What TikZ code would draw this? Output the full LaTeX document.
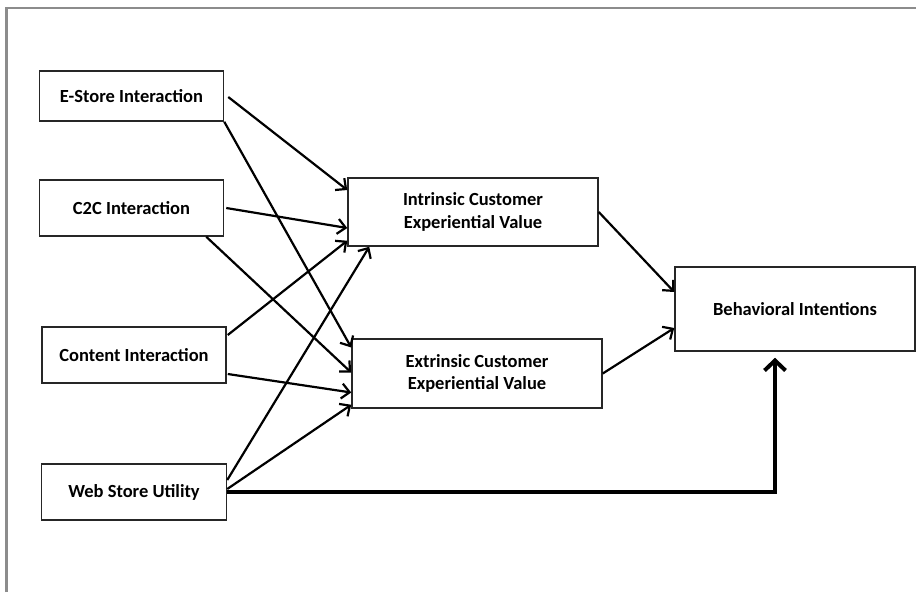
\documentclass[tikz,border=0pt]{standalone}
\usepackage{fontspec}
\setmainfont{Carlito}
\usepackage{xcolor}
\usetikzlibrary{positioning,arrows.meta,calc}

\begin{document}
\begin{tikzpicture}[
    x=1pt, y=-1pt,
    >={Straight Barb[length=8pt,width=15pt]},
    construct/.style={draw=black!85, line width=1.5pt, fill=white, align=center,
        font=\fontsize{18.5}{22.5}\selectfont\bfseries},
    link/.style={->, line width=2.2pt},
    mainlink/.style={line width=4pt, -{Straight Barb[length=10pt,width=21pt]}},
    frameline/.style={draw=black!45, line width=2.2pt}
]
% Column positions
\def\colA{134}
\def\colB{475}
\def\colC{795}

\useasboundingbox (0,0) rectangle (916,592);

% Outer frame (only left and top edges show)
\draw[frameline] (6.5,592) -- (6.5,8) -- (916,8);

% === Left column: interaction constructs ===
\node[construct, minimum width=184pt, minimum height=50pt] (estore)  at (131.5, 96)  {E-Store Interaction};
\node[construct, minimum width=184pt, minimum height=56pt] (c2c)     at (131.5, 208) {C2C Interaction};
\node[construct, minimum width=184pt, minimum height=56pt] (content) at (\colA, 355)  {Content Interaction};
\node[construct, minimum width=185pt, minimum height=56pt] (web)     at (\colA, 492)  {Web Store Utility};

% === Middle column: experiential value ===
\node[construct, minimum width=250pt, minimum height=68pt] (intr) at (473, 212)   {Intrinsic Customer\\Experiential Value};
\node[construct, minimum width=250pt, minimum height=69pt] (extr) at (477, 373.5) {Extrinsic Customer\\Experiential Value};

% === Right column: outcome ===
\node[construct, minimum width=240pt, minimum height=84pt] (behav) at (\colC, 309) {Behavioral Intentions};

% Lines to intrinsic value
\draw[link] ([xshift=4pt,yshift=-1pt]estore.east) -- ([yshift=22pt]intr.west);
\draw[link] ([xshift=2pt]c2c.east) -- ([yshift=-16pt]intr.west);
\draw[link] ([xshift=1pt,yshift=20pt]content.east) -- ([yshift=6pt]intr.south west);
\draw[link] ([yshift=12pt]web.east) -- ([xshift=22pt]intr.south west);

% Lines to extrinsic value
\draw[link] (estore.south east) -- ([yshift=26pt]extr.west);
\draw[link] ([xshift=-18pt]c2c.south east) -- ([yshift=1pt]extr.west);
\draw[link] ([xshift=1pt,yshift=-19pt]content.east) -- ([yshift=-19pt]extr.west);
\draw[link] ([yshift=3pt]web.east) -- ([yshift=4pt]extr.south west);

% Lines to behavioral intentions
\draw[link] (intr.east) -- ([yshift=17pt]behav.west);
\draw[link] (extr.east) -- ([yshift=-19pt]behav.west);
\draw[mainlink] (web.east) -| ([xshift=-20pt,yshift=-6pt]behav.south);

\end{tikzpicture}
\end{document}
